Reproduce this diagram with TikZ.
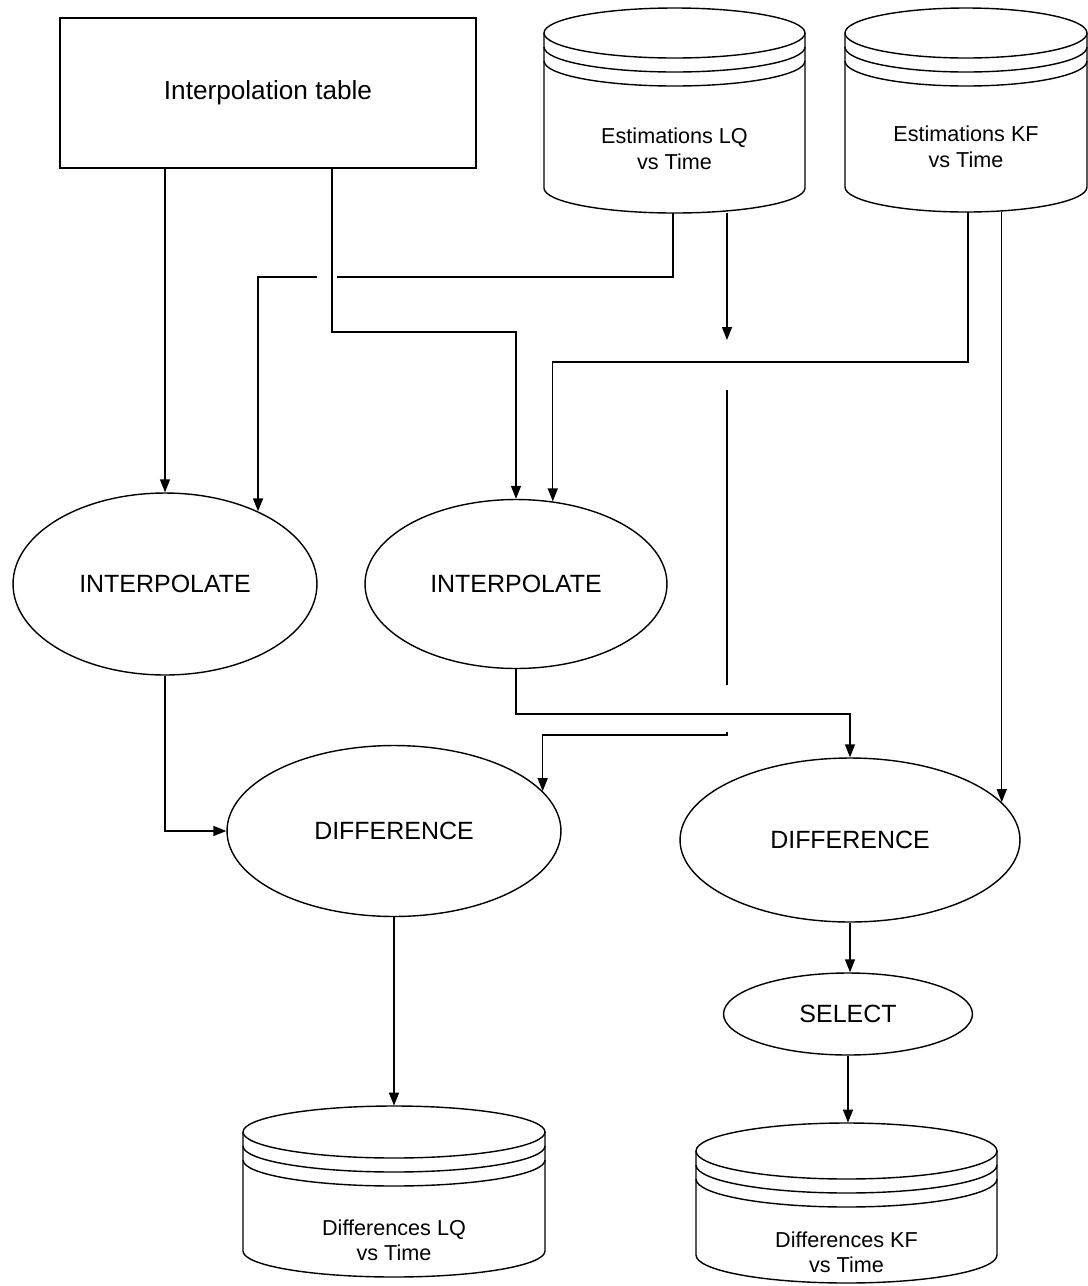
\documentclass[tikz,border=0pt]{standalone}
\usepackage{fontspec}
\setmainfont{Liberation Sans}
\usetikzlibrary{arrows.meta,shapes.geometric,calc}

\tikzset{
  store/.style={draw,line width=0.8pt},
  storetext/.style={align=center,font=\fontsize{12.3}{14.5}\selectfont},
  proc/.style={ellipse,draw,line width=0.8pt,inner sep=0pt,font=\fontsize{14.2}{17}\selectfont},
  link/.style={draw,line width=0.8pt},
  flow/.style={link,-{Triangle[length=2.6mm,width=2mm]}}
}

% #1 name, #2 centre x, #3 half width, #4 top, #5 bottom, #6 cap radius, #7 text y, #8 text
\newcommand{\datastore}[8]{%
  \draw[store] (#2,-#4-#6) ellipse[x radius=#3, y radius=#6];
  \draw[store] (#2-#3,-#4-#6) -- (#2-#3,-#5+#6)
    arc[start angle=180, end angle=360, x radius=#3, y radius=#6]
    -- (#2+#3,-#4-#6);
  \foreach \band in {14,28}
    \draw[store] (#2-#3,-#4-#6-\band) arc[start angle=180, end angle=360, x radius=#3, y radius=#6];
  \node[minimum width=2*#3*0.02cm, minimum height=(#5-#4)*0.02cm, inner sep=0pt] (#1) at (#2,-#4/2-#5/2) {};
  \node[storetext] (#1-txt) at (#2,-#7) {#8};
}

\begin{document}
\begin{tikzpicture}[x=0.02cm,y=0.02cm]
  \useasboundingbox (0,0) rectangle (1088,-1286);

  % sources
  \node[draw,line width=0.8pt,minimum width=8.32cm,minimum height=3cm,
        font=\fontsize{14.9}{17}\selectfont] (table) at (268,-93) {Interpolation table};
  \datastore{LQ}{674.5}{130.5}{8}{213}{25}{149}{Estimations LQ\\vs Time}
  \datastore{KF}{966}{121}{8}{212}{25}{147}{Estimations KF\\vs Time}

  % processes
  \node[proc,minimum width=6.08cm,minimum height=3.64cm] (INTa) at (165,-584) {INTERPOLATE};
  \node[proc,minimum width=6.04cm,minimum height=3.38cm] (INTb) at (516,-584) {INTERPOLATE};
  \node[proc,minimum width=6.68cm,minimum height=3.42cm] (DIFFa) at (394,-831) {DIFFERENCE};
  \node[proc,minimum width=6.8cm,minimum height=3.28cm] (DIFFb) at (850,-840) {DIFFERENCE};
  \node[proc,minimum width=4.98cm,minimum height=1.64cm] (SEL) at (848,-1014) {SELECT};

  % results
  \datastore{DLQ}{394}{151}{1106}{1277}{26}{1240}{Differences LQ\\vs Time}
  \datastore{DKF}{846.5}{150.5}{1123}{1283}{28}{1252}{Differences KF\\vs Time}

  % bends and line hops
  \coordinate (tb) at (332,-332);
  \coordinate (lqa) at (673,-277);
  \coordinate (hopa) at (337,-277);
  \coordinate (hopb) at (317,-277);
  \coordinate (lqd1) at (727,-340);
  \coordinate (lqd2) at (727,-390);
  \coordinate (lqd3) at (727,-685);
  \coordinate (lqd4) at (727,-732);
  \coordinate (lqd) at (727,-735);
  \coordinate (kfa) at (968,-362);

  \draw[flow] (table.south -| INTa.north) -- (INTa.north);
  \draw[flow] (table.south -| tb) -- (tb) -| (INTb.north);

  \draw[link] (LQ.south -| lqa) -- (lqa) -- (hopa);
  \draw[flow] (hopb) -| (INTa.38);

  \draw[flow] (LQ.south -| lqd1) -- (lqd1);
  \draw[link] (lqd2) -- (lqd3);
  \draw[flow] (lqd4) -- (lqd) -| (DIFFa.15);

  \draw[flow] (KF.south -| kfa) -- (kfa) -| (INTb.66);
  \draw[flow] (KF.south -| DIFFb.14) -- (DIFFb.14);

  \draw[flow] (INTa.south) |- (DIFFa.west);
  \draw[flow] (INTb.south) -- ++(0,-45) -| (DIFFb.north);

  \draw[flow] (DIFFa.south) -- (DLQ.north);
  \draw[flow] (DIFFb.south) -- (DIFFb.south |- SEL.north);
  \draw[flow] (SEL.south) -- (SEL.south |- DKF.north);
\end{tikzpicture}
\end{document}
